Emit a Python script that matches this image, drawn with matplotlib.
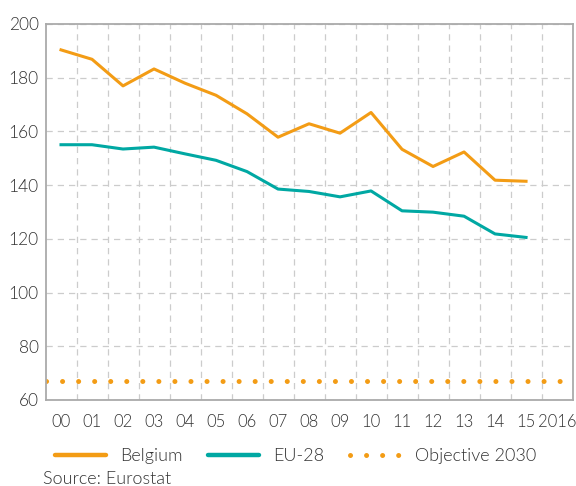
import numpy as np
from matplotlib import pyplot as plt

years = ['00', '01', '02', '03', '04', '05', '06', '07', '08', '09',
         '10', '11', '12', '13', '14', '15', '2016']
belgium = [190.3, 186.8, 176.9, 183.2, 177.9, 173.4, 166.5, 157.8, 162.8,
           159.3, 167.0, 153.3, 146.9, 152.3, 141.8, 141.4]
eu28 = [155.0, 155.0, 153.4, 154.1, 151.6, 149.2, 145.0, 138.5, 137.6,
        135.6, 137.8, 130.4, 129.9, 128.4, 121.8, 120.5]
objective = 67

ORANGE = '#F39C15'
TEAL = '#00A8A3'
FS = 13


def generate_chart():
    plt.rcParams['font.family'] = ['Lato', 'DejaVu Sans']
    plt.rcParams['font.weight'] = 300
    fig = plt.figure(figsize=(5.76, 4.86), dpi=100)
    ax = fig.add_axes([0.079, 0.177, 0.915, 0.774])

    ind = np.arange(len(years))
    ax.plot(ind[:len(belgium)], belgium, color=ORANGE, lw=2.2, label='Belgium')
    ax.plot(ind[:len(eu28)], eu28, color=TEAL, lw=2.2, label='EU-28')
    ax.axhline(objective, color=ORANGE, lw=3.6, ls=(0, (0.01, 3.2)),
               dash_capstyle='round', label='Objective 2030')

    ax.set_xlim(-0.5, 16.5)
    ax.set_ylim(60, 200)
    ax.set_xticks(ind)
    ax.set_xticklabels(years)
    ax.set_xticks(ind[:-1] + 0.5, minor=True)
    ax.set_yticks(np.arange(60, 201, 20))
    ax.tick_params(which='both', length=0, labelsize=12, colors='#333333')
    ax.tick_params(axis='y', labelsize=12.5, pad=5)
    ax.tick_params(axis='x', pad=10)
    ax.grid(axis='y', which='major', color='#cccccc', ls=(0, (5, 4)), lw=0.9)
    ax.grid(axis='x', which='minor', color='#cccccc', ls=(0, (5, 4)), lw=0.9)
    for s in ax.spines.values():
        s.set_color('#aaaaaa')
        s.set_linewidth(1.3)

    leg = ax.legend(loc='upper left', bbox_to_anchor=(-0.012, -0.085), ncol=3,
                    frameon=False, fontsize=FS, handlelength=2.8,
                    columnspacing=1.4, handletextpad=0.8, labelcolor='#333333')
    for h in leg.get_lines()[:2]:
        h.set_linewidth(3.2)
        h.set_solid_capstyle('round')
    fig.text(0.075, 0.004, 'Source: Eurostat', fontsize=FS, color='#333333')

    plt.savefig('out.png', dpi=100)


def main():
    generate_chart()


if __name__ == '__main__': main()
